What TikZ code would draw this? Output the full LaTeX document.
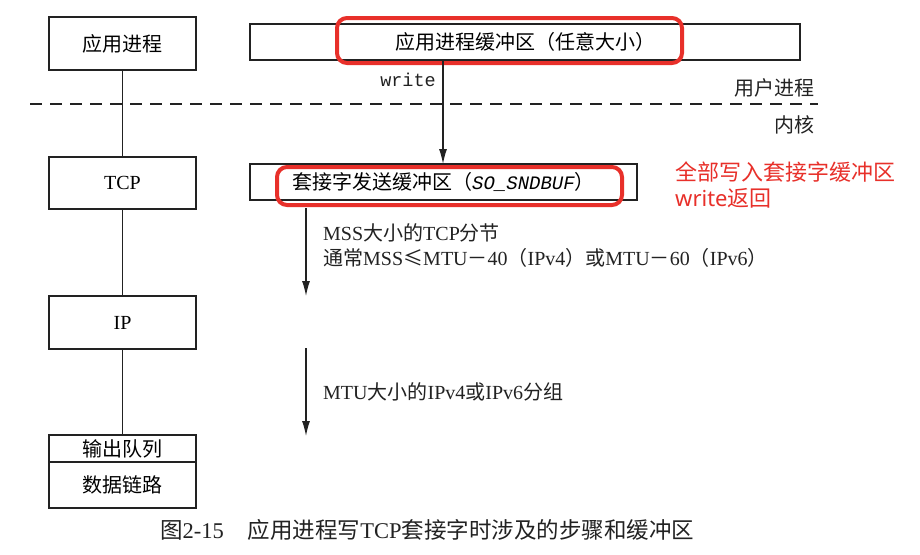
\documentclass[tikz,border=0pt]{standalone}
\usepackage{fontspec}
\setmainfont{Liberation Serif}
\setmonofont{Liberation Mono}
\newfontfamily\cjk{Noto Sans CJK SC}
\usetikzlibrary{arrows.meta}
\definecolor{hlred}{HTML}{E8302A}
\definecolor{ink}{HTML}{222222}
\begin{document}
\begin{tikzpicture}[x=1pt,y=-1pt,
  layerbox/.style={draw=ink,line width=1.3pt,minimum width=147pt,inner sep=0pt,font=\fontsize{20}{22}\selectfont},
  bufbox/.style={draw=ink,line width=1.3pt,inner sep=0pt,font=\fontsize{20}{22}\selectfont},
  hlbox/.style={draw=hlred,line width=4pt,rounded corners=10pt},
  link/.style={draw=ink,line width=1.2pt},
  flow/.style={draw=ink,line width=1.2pt,-{Latex[length=15pt,width=8pt]}},
  lbl/.style={inner sep=0pt,font=\fontsize{20}{22}\selectfont,text=ink},
  note/.style={inner sep=0pt,font=\cjk\fontsize{22}{24}\selectfont,text=hlred,anchor=west}
]
\useasboundingbox (0,0) rectangle (920,554);
\fill[white] (0,0) rectangle (920,554);

% layer boxes
\node[layerbox,minimum height=53pt] (app) at (122.5,43.5) {\cjk 应用进程};
\node[layerbox,minimum height=52pt] (tcp) at (122.5,183) {TCP};
\node[layerbox,minimum height=53pt] (ip) at (122.5,322.5) {IP};
\node[layerbox,minimum height=27pt] (outq) at (122.5,448.5) {\cjk 输出队列};
\node[layerbox,minimum height=46pt] (dlink) at (122.5,485) {\cjk 数据链路};

\draw[link] (app.south) -- (tcp.north);
\draw[link] (tcp.south) -- (ip.north);
\draw[link] (ip.south) -- (outq.north);

% buffers
\node[bufbox,minimum width=550pt,minimum height=36pt] (appbuf) at (525,42) {\cjk 应用进程缓冲区（任意大小）};
\node[bufbox,minimum width=387pt,minimum height=36pt] (sndbuf) at (443.5,182) {{\cjk 套接字发送缓冲区（}{\ttfamily\itshape\fontsize{19}{22}\selectfont SO\_SNDBUF}{\cjk ）}};

% highlight boxes
\node[hlbox,minimum width=345pt,minimum height=45pt] (hl1) at (509.5,40.5) {};
\node[hlbox,minimum width=345pt,minimum height=38pt] (hl2) at (449.5,186) {};

% boundary
\coordinate (dl) at (30,104);
\coordinate (dr) at (818,104);
\draw[ink,line width=1.2pt,dash pattern=on 12pt off 8pt] (dl) -- (dr);
\node[lbl,anchor=east] (user) at (815,88) {\cjk 用户进程};
\node[lbl,anchor=east] (kern) at (815,125) {\cjk 内核};

% write arrow
\coordinate (w0) at (443,60);
\coordinate (w1) at (443,164);
\draw[flow] (w0) -- (w1);
\node[lbl,anchor=east,font=\ttfamily\fontsize{18.5}{20}\selectfont] (wr) at (436,80) {write};

% tcp to ip arrow
\coordinate (a0) at (306,208);
\coordinate (a1) at (306,296);
\draw[flow] (a0) -- (a1);
\node[lbl,anchor=west] (mss1) at (323,233) {MSS{\cjk 大小的}TCP{\cjk 分节}};
\node[lbl,anchor=west] (mss2) at (323,258) {{\cjk 通常}MSS{\cjk ≤}MTU{\cjk －}40{\cjk （}IPv4{\cjk ）或}MTU{\cjk －}60{\cjk （}IPv6{\cjk ）}};

% ip to datalink arrow
\coordinate (b0) at (306,348);
\coordinate (b1) at (306,436);
\draw[flow] (b0) -- (b1);
\node[lbl,anchor=west] (mtu) at (323,392) {MTU{\cjk 大小的}IPv4{\cjk 或}IPv6{\cjk 分组}};

% annotation
\node[note] (n1) at (675,172) {全部写入套接字缓冲区};
\node[note] (n2) at (675,198) {{\fontspec{Noto Sans}write}返回};

% caption
\node[lbl,anchor=west,font=\fontsize{22.5}{24}\selectfont] (cap) at (160,530) {{\cjk 图}2-15\hspace{24pt}{\cjk 应用进程写}TCP{\cjk 套接字时涉及的步骤和缓冲区}};
\end{tikzpicture}
\end{document}
